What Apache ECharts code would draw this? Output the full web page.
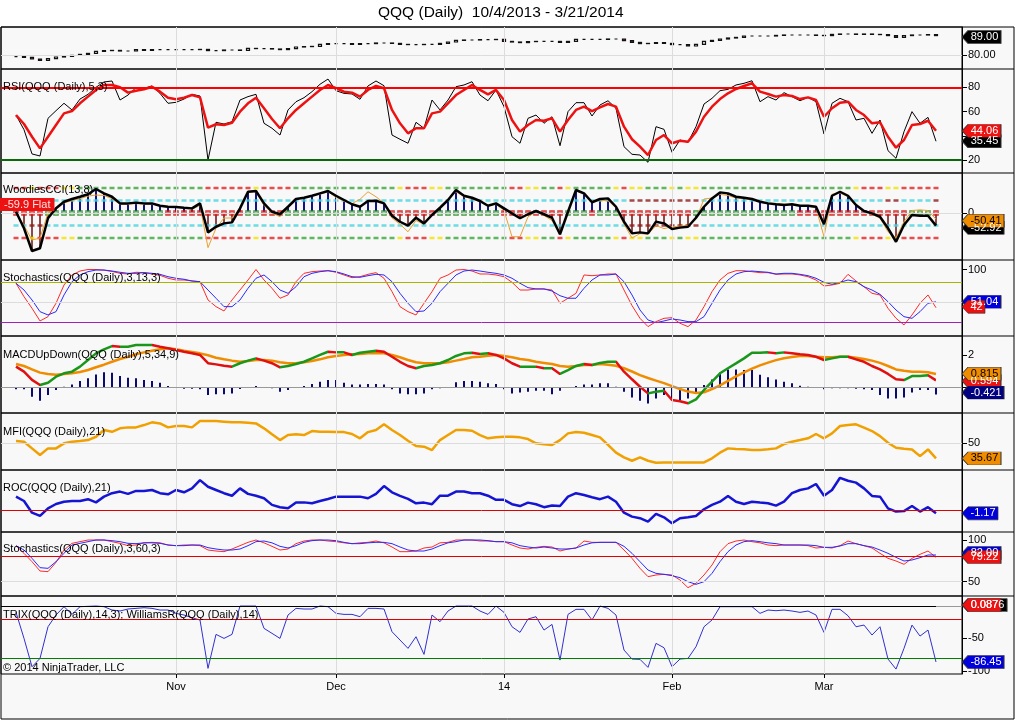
<!DOCTYPE html>
<html>
<head>
<meta charset="utf-8">
<title>QQQ (Daily) 10/4/2013 - 3/21/2014</title>
<script src="https://cdn.jsdelivr.net/npm/echarts@6/dist/echarts.min.js"></script>
<style>
  html, body { margin: 0; padding: 0; background: #fff; }
  #chart { width: 1016px; height: 720px; }
</style>
</head>
<body>
<div id="chart"></div>
<script>
// trading days 10/4/2013 .. 3/21/2014, index 0..115
const monthIdx = [20, 40, 61, 82, 101]
const monthLabels = ['Nov', 'Dec', '14', 'Feb', 'Mar']

const closes = [
  79.2, 78.8, 78.0, 77.3, 78.2, 79.0, 79.3, 79.8, 80.3, 80.8,
  81.8, 82.2, 82.3, 82.0, 82.0, 82.7, 82.3, 82.7, 82.7, 82.7,
  82.7, 82.7, 82.7, 82.8, 82.2, 82.2, 82.5, 82.5, 82.3, 83.3,
  83.2, 83.2, 83.0, 82.7, 83.2, 84.0, 84.2, 84.3, 85.3, 85.7,
  85.7, 85.7, 85.3, 85.7, 85.7, 86.0, 86.0, 85.8, 85.3, 85.2,
  85.2, 85.3, 85.3, 85.8, 86.5, 87.3, 87.5, 87.5, 87.7, 87.7,
  87.8, 86.8, 86.5, 86.2, 86.7, 86.8, 86.8, 86.8, 86.3, 86.8,
  87.8, 87.8, 87.8, 87.8, 88.0, 88.0, 87.2, 86.3, 85.7, 85.8,
  86.2, 85.8, 85.2, 85.2, 84.5, 85.3, 86.8, 87.3, 88.0, 88.5,
  88.8, 89.5, 89.5, 89.5, 89.5, 89.8, 90.0, 90.0, 90.0, 90.0,
  89.8, 89.7, 90.3, 90.5, 90.5, 90.3, 90.5, 90.3, 90.2, 89.7,
  88.8, 89.7, 90.0, 90.0, 90.2, 89.7
]

const rsi = [
  57.1, 45.0, 25.0, 23.3, 54.4, 60.7, 66.8, 61.3, 70.3, 74.2,
  80.0, 84.4, 85.2, 69.5, 73.6, 79.7, 79.2, 81.1, 75.0, 66.8,
  67.6, 70.3, 74.2, 72.8, 20.0, 51.1, 49.7, 51.6, 69.5, 72.3,
  74.2, 50.3, 46.2, 40.6, 61.3, 68.1, 71.4, 76.4, 82.5, 86.8,
  77.2, 75.0, 74.5, 70.1, 81.1, 85.2, 81.3, 40.6, 37.1, 33.8,
  51.1, 46.2, 69.5, 61.3, 69.5, 80.5, 81.9, 84.6, 73.6, 68.9,
  77.8, 64.0, 39.2, 33.8, 54.4, 57.1, 50.3, 55.7, 31.8, 59.9,
  67.3, 67.3, 56.3, 65.4, 68.9, 62.7, 31.0, 24.7, 24.1, 18.1,
  47.5, 45.3, 26.4, 36.5, 34.6, 47.5, 66.2, 70.9, 77.2, 78.3,
  81.9, 83.3, 85.4, 68.1, 72.3, 69.5, 75.6, 72.3, 68.9, 71.7,
  68.1, 41.5, 66.8, 70.9, 68.1, 53.0, 54.4, 42.0, 53.0, 27.7,
  21.4, 43.4, 59.9, 50.3, 55.2, 35.45
]
const rsiAvg = [
  57.1, 49.7, 39.2, 29.6, 39.2, 48.9, 58.5, 60.4, 66.8, 72.3,
  77.8, 81.9, 81.9, 80.0, 75.6, 77.2, 78.3, 80.5, 76.4, 71.4,
  70.1, 71.4, 73.6, 71.7, 46.7, 49.5, 48.9, 50.8, 59.9, 66.8,
  71.4, 62.7, 53.8, 46.2, 54.4, 61.3, 66.8, 72.3, 77.8, 81.9,
  79.2, 76.4, 75.6, 72.3, 77.8, 81.1, 79.2, 61.3, 50.3, 42.0,
  46.2, 46.2, 58.5, 59.9, 66.8, 73.6, 77.8, 81.9, 77.8, 74.2,
  77.8, 69.5, 53.0, 43.4, 48.9, 53.0, 52.4, 54.4, 43.4, 53.0,
  61.3, 64.0, 60.4, 63.5, 66.2, 64.0, 47.5, 37.1, 31.0, 24.1,
  36.5, 40.6, 33.8, 35.9, 35.1, 43.4, 55.7, 64.0, 70.3, 75.0,
  78.6, 81.1, 83.3, 76.4, 74.5, 72.3, 73.6, 72.8, 70.3, 71.7,
  69.5, 55.7, 62.7, 67.3, 68.1, 61.3, 57.1, 50.3, 51.1, 39.2,
  30.2, 36.5, 48.9, 49.7, 52.4, 44.06
]

const cci = [
  10, -122, -304, -282, -42, 38, 90, 112, 130, 150,
  192, 157, 130, 77, 77, 83, 77, 77, 58, 50,
  48, 42, 37, 77, -155, -110, -83, -75, 37, 170,
  176, 77, 10, -10, 50, 112, 122, 138, 157, 176,
  138, 104, 70, 50, 96, 98, 77, -22, -70, -101,
  -38, -83, -16, 42, 104, 184, 138, 122, 96, 58,
  77, 37, -3, -42, -10, 16, -10, -38, -170, 10,
  184, 157, 86, 112, 117, 50, -70, -163, -155, -163,
  -70, -83, -128, -117, -110, -38, 50, 117, 165, 157,
  130, 122, 112, 90, 77, 70, 64, 70, 58, 58,
  50, -90, 138, 170, 138, 64, 16, -3, -30, -122,
  -230, -96, -16, -22, -22, -101
]
const cciTurbo = [
  10, -100, -216, -200, 0, 30, 80, 100, 115, 135,
  144, 140, 115, 70, 70, 75, 70, 70, 55, 45,
  45, 40, 30, 60, -277, -122, -40, -40, 40, 165,
  170, 60, 0, -30, 40, 110, 120, 135, 150, 170,
  125, 95, 75, 110, 170, 130, 80, -40, -90, -150,
  -60, -90, -20, 50, 110, 170, 130, 115, 90, 55,
  70, 20, -190, -190, -30, 10, -20, -60, -175, 20,
  176, 150, 95, 100, 100, 40, -90, -200, -165, -170,
  -100, -125, -110, -105, -100, -50, 112, 120, 150, 140,
  120, 115, 105, 95, 80, 75, 72, 65, 55, 55,
  40, -190, 150, 160, 130, 60, 10, -10, -40, -150,
  -200, -70, 20, 25, 20, -50
]
// per-bar colour codes of the Woodies level lines
const cciZeroCodes =
  'rrrrggggggggggggggg' + 'rrrrrrrrrrggrrr' + 'gggggggggggggrrrrrr' + 'gggggggg' +
  'rrrrrrrrgggrggg' + 'rrrrrrrrr' + 'ggggggggggggg' + 'rrrrrrrrrrrrrr' + 'gggr'
const cciOuterCodes =
  'rryrrryy' + 'gggggggggggggggg' + 'rrrrrryrrrr' + 'ggggggggggggg' + 'yrrryy' + 'ggggggg' +
  'grryyggryggggg' + 'yryyggg' + 'ygyy' + 'ggggggggggggggggggg' + 'yrrryyrrrrr'
const cciUpperCodes =
  'c'.repeat(77) + 'd'.repeat(9) + 'c'.repeat(23) + 'dd' + 'cccc' + 'd'
const cciLowerCodes =
  'ccdd' + 'c'.repeat(73) + 'd'.repeat(9) + 'c'.repeat(30)

const stochK = [
  79.1, 58.8, 41.2, 22.0, 28.5, 48.8, 76.5, 91.7, 97.7, 100,
  100, 99, 97, 94.2, 93.2, 95.8, 95.2, 93.2, 91.2, 86.7,
  84.1, 84.1, 82.6, 81.5, 53.8, 43.7, 37.1, 53.8, 68.9, 84.1,
  100, 84.1, 71.5, 56.4, 61.4, 81.5, 94.2, 96.7, 97.7, 98.2,
  95.8, 91.7, 87.6, 89.1, 92.7, 95.2, 86.7, 66.4, 43.7, 36.1,
  31.1, 48.8, 66.4, 86.7, 91.7, 99.2, 100, 97.7, 93.2, 93.2,
  91.7, 89.1, 80.6, 68.9, 68.9, 70.5, 70.5, 68.9, 48.8, 56.4,
  63.9, 91.7, 90.6, 91.7, 93.2, 93.2, 68.9, 45.3, 26.0, 13.4,
  21.0, 26.0, 27.0, 18.5, 13.4, 23.5, 43.7, 66.4, 84.1, 94.2,
  98.2, 98.2, 96.7, 95.2, 95.2, 92.7, 93.2, 93.2, 91.7, 89.1,
  84.1, 75.0, 76.5, 79.1, 92.7, 82.6, 73.9, 63.9, 61.4, 41.2,
  26.0, 16.0, 31.1, 48.8, 61.4, 42
]
const stochD = [
  79.1, 68.9, 53.8, 36.1, 31.1, 36.1, 61.4, 81.5, 91.7, 96.7,
  99.2, 99.2, 97.7, 95.8, 94.2, 94.2, 95.2, 94.2, 92.7, 89.1,
  86.7, 85.2, 82.6, 81.5, 68.9, 56.4, 43.7, 43.7, 53.8, 71.5,
  86.7, 91.7, 81.5, 68.9, 63.9, 73.9, 89.1, 94.2, 96.7, 98.2,
  96.7, 93.2, 89.1, 88.2, 90.6, 92.7, 91.7, 81.5, 63.9, 48.8,
  36.1, 37.1, 48.8, 66.4, 79.1, 91.7, 97.7, 99.2, 97.7, 95.8,
  94.2, 91.7, 86.7, 79.1, 72.5, 70.5, 70.5, 67.4, 60.3, 56.4,
  56.4, 71.5, 84.1, 91.7, 91.7, 93.2, 81.5, 61.4, 38.6, 23.5,
  19.4, 22.0, 25.0, 23.5, 21.0, 21.0, 28.5, 48.8, 68.9, 84.1,
  93.2, 96.7, 97.7, 96.7, 95.8, 93.2, 94.2, 94.2, 92.7, 90.6,
  86.7, 80.6, 77.6, 80.6, 84.1, 81.5, 73.9, 68.9, 62.4, 51.2,
  38.6, 28.5, 26.0, 36.1, 48.8, 51.04
]

const macd = [
  1.30, 0.99, 0.48, 0.17, 0.31, 0.68, 0.89, 0.99, 1.30, 1.71,
  2.12, 2.37, 2.57, 2.53, 2.53, 2.64, 2.64, 2.64, 2.53, 2.43,
  2.33, 2.22, 2.12, 2.02, 1.51, 1.44, 1.36, 1.30, 1.51, 1.67,
  1.81, 1.67, 1.51, 1.26, 1.34, 1.46, 1.60, 1.81, 2.02, 2.22,
  2.18, 2.18, 2.02, 2.16, 2.22, 2.28, 2.22, 1.91, 1.60, 1.34,
  1.20, 1.34, 1.40, 1.51, 1.71, 1.96, 2.12, 2.16, 2.08, 2.12,
  2.02, 1.81, 1.51, 1.30, 1.30, 1.30, 1.20, 1.20, 0.85, 1.09,
  1.34, 1.46, 1.40, 1.53, 1.60, 1.60, 0.99, 0.52, 0.06, -0.35,
  -0.25, -0.19, -0.76, -0.83, -0.96, -0.72, -0.14, 0.37, 0.89, 1.20,
  1.50, 1.81, 2.16, 2.16, 2.18, 2.12, 2.18, 2.12, 2.06, 2.02,
  1.91, 1.71, 1.81, 1.91, 1.91, 1.75, 1.60, 1.34, 1.13, 0.85,
  0.52, 0.47, 0.72, 0.72, 0.77, 0.45
]
const macdAvg = [
  1.46, 1.34, 1.13, 0.93, 0.85, 0.80, 0.85, 0.89, 0.97, 1.09,
  1.26, 1.42, 1.60, 1.77, 1.91, 2.06, 2.18, 2.28, 2.37, 2.43,
  2.37, 2.28, 2.20, 2.12, 2.00, 1.85, 1.75, 1.67, 1.60, 1.65,
  1.71, 1.71, 1.67, 1.57, 1.51, 1.51, 1.57, 1.65, 1.75, 1.88,
  1.96, 2.02, 2.06, 2.08, 2.12, 2.12, 2.12, 2.02, 1.88, 1.71,
  1.57, 1.51, 1.51, 1.51, 1.57, 1.67, 1.77, 1.88, 1.91, 1.97,
  2.02, 1.96, 1.88, 1.77, 1.71, 1.60, 1.53, 1.46, 1.34, 1.30,
  1.34, 1.40, 1.40, 1.46, 1.42, 1.35, 1.20, 1.00, 0.78, 0.60,
  0.44, 0.28, 0.10, -0.08, -0.24, -0.32, -0.28, -0.08, 0.15, 0.42,
  0.70, 0.95, 1.18, 1.38, 1.55, 1.70, 1.82, 1.90, 1.95, 1.96,
  1.91, 1.88, 1.88, 1.91, 1.91, 1.85, 1.77, 1.67, 1.53, 1.34,
  1.13, 1.05, 0.99, 0.99, 0.95, 0.85
]
const macdDiff = [
  -0.10, -0.10, -0.56, -0.80, -0.45, -0.14, 0.06, 0.20, 0.41, 0.58,
  0.82, 0.95, 0.93, 0.72, 0.62, 0.58, 0.47, 0.41, 0.31, 0.10,
  0, -0.06, -0.06, -0.10, -0.45, -0.41, -0.41, -0.35, -0.08, 0,
  0.10, 0, -0.04, -0.25, -0.14, 0.04, 0.10, 0.23, 0.37, 0.47,
  0.47, 0.31, 0.20, 0.20, 0.23, 0.23, 0.20, -0.10, -0.35, -0.41,
  -0.41, -0.35, -0.10, -0.04, 0, 0.33, 0.41, 0.41, 0.37, 0.27,
  0.23, -0.10, -0.35, -0.29, -0.25, -0.19, -0.19, -0.41, -0.19, 0,
  0.10, 0.20, 0.20, 0.27, 0.27, 0.06, -0.25, -0.60, -0.80, -0.97,
  -0.66, -0.45, -0.72, -0.76, -0.66, -0.31, 0.16, 0.51, 0.93, 1.13,
  1.13, 1.09, 1.09, 0.80, 0.65, 0.50, 0.37, 0.27, 0.12, 0.06,
  0, -0.10, -0.04, -0.04, -0.04, -0.06, -0.10, -0.14, -0.45, -0.66,
  -0.66, -0.60, -0.29, -0.14, -0.14, -0.42
]

const mfi = [
  52.2, 51.5, 45.2, 38.9, 45.2, 45.2, 50.0, 51.5, 52.2, 53.1,
  56.3, 62.7, 61.0, 64.3, 65.2, 65.2, 67.4, 70.0, 69.0, 65.2,
  66.5, 66.5, 65.2, 71.2, 71.2, 71.2, 70.6, 70.0, 70.0, 69.7,
  69.0, 64.3, 58.6, 53.1, 57.9, 58.6, 57.9, 61.7, 61.0, 61.0,
  60.7, 60.7, 58.9, 54.8, 60.7, 62.7, 68.1, 62.7, 57.9, 52.5,
  47.4, 46.8, 43.6, 53.1, 57.9, 62.7, 62.7, 62.0, 57.9, 54.8,
  55.7, 56.3, 56.3, 55.7, 54.1, 50.0, 49.1, 48.5, 53.1, 59.5,
  60.7, 60.1, 57.9, 55.7, 48.5, 41.1, 36.7, 33.4, 36.7, 33.4,
  31.5, 31.8, 31.8, 31.8, 31.8, 31.8, 31.8, 35.7, 41.1, 45.2,
  44.6, 44.3, 43.6, 43.6, 44.3, 45.2, 49.3, 51.5, 53.1, 54.8,
  58.9, 54.8, 59.5, 66.5, 67.4, 68.1, 64.9, 61.7, 56.9, 50.6,
  45.8, 44.9, 44.2, 37.8, 44.2, 35.67
]

const roc = [
  6.1, 4.2, -0.9, -2.3, 1.0, 2.9, 3.9, 4.2, 4.2, 5.0,
  3.6, 6.1, 7.6, 8.3, 7.3, 8.6, 8.6, 9.0, 7.6, 7.1,
  9.0, 8.0, 9.7, 13.3, 10.4, 9.0, 7.6, 6.5, 9.7, 7.3,
  6.5, 5.4, 2.5, 1.5, 1.0, 3.6, 3.6, 3.2, 4.2, 5.1,
  6.1, 6.1, 6.1, 6.1, 5.4, 7.3, 10.7, 8.0, 6.4, 5.1,
  3.2, 3.5, 2.8, 6.5, 6.5, 8.3, 8.3, 7.6, 7.6, 6.5,
  4.7, 4.7, 2.8, 2.0, 3.5, 2.8, 1.5, 2.2, 2.0, 6.1,
  7.6, 6.8, 5.8, 5.0, 6.1, 3.9, -0.9, -2.6, -3.3, -4.8,
  -1.4, -2.9, -5.5, -3.3, -2.9, -2.3, 0.6, 2.5, 3.9, 6.4,
  3.9, 2.9, 3.9, 3.5, 3.2, 2.2, 3.9, 7.6, 9.0, 9.7,
  11.6, 6.5, 9.0, 14.3, 13.0, 12.2, 9.7, 6.4, 6.1, 1.0,
  -0.4, -0.2, 2.0, -0.4, 1.5, -1.17
]

const stoch60K = [
  93.2, 84.0, 74.0, 62.8, 62.0, 73.2, 88.0, 96.0, 98.0, 100,
  100, 100, 98.0, 96.0, 93.2, 94.0, 96.6, 97.2, 96.6, 94.0,
  93.2, 94.0, 94.0, 93.2, 88.0, 86.8, 86.0, 89.2, 93.2, 97.2,
  100, 96.6, 92.4, 88.0, 89.2, 95.6, 98.8, 100, 100, 98.8,
  98.0, 96.6, 95.6, 96.6, 97.2, 98.8, 96.6, 91.6, 86.0, 86.0,
  86.8, 90.4, 91.6, 96.6, 97.2, 100, 100, 100, 98.8, 98.8,
  98.0, 98.0, 94.0, 90.4, 89.2, 91.2, 92.4, 91.6, 86.8, 89.2,
  90.4, 98.8, 97.2, 97.2, 97.2, 97.2, 88.0, 78.0, 66.0, 56.0,
  58.0, 58.8, 58.0, 52.0, 42.8, 48.0, 58.0, 70.0, 86.0, 95.6,
  98.8, 100, 98.0, 96.6, 94.0, 93.2, 94.0, 94.0, 94.0, 93.2,
  90.4, 91.2, 90.4, 93.2, 98.8, 95.6, 93.2, 90.4, 84.0, 78.0,
  74.8, 70.8, 78.0, 82.8, 86.8, 79.22
]
const stoch60D = [
  93.2, 88.0, 78.0, 66.8, 66.0, 74.0, 84.0, 94.0, 96.0, 98.0,
  100, 100, 99.2, 98.0, 96.0, 95.6, 96.6, 96.6, 96.0, 94.0,
  93.2, 93.2, 94.0, 94.0, 90.8, 89.2, 88.0, 88.0, 89.2, 93.2,
  98.0, 98.8, 96.6, 92.4, 90.4, 93.2, 97.2, 99.2, 100, 100,
  99.2, 97.2, 95.6, 95.6, 96.6, 97.2, 97.2, 95.6, 91.6, 88.0,
  86.8, 86.8, 89.2, 93.2, 96.6, 98.0, 100, 100, 100, 99.2,
  98.0, 98.0, 96.6, 93.2, 91.6, 90.4, 91.6, 90.4, 89.2, 89.2,
  90.4, 94.0, 96.6, 97.2, 97.2, 97.2, 92.4, 84.0, 74.0, 64.0,
  60.0, 58.8, 57.2, 54.8, 50.0, 46.8, 50.0, 60.0, 74.0, 86.0,
  94.0, 98.0, 99.2, 98.0, 96.6, 95.6, 94.0, 94.0, 94.0, 94.0,
  93.2, 91.2, 91.2, 92.8, 95.6, 95.6, 93.2, 91.6, 88.0, 84.0,
  79.2, 74.8, 76.0, 78.8, 82.0, 82.0
]

const willR = [
  -9.8, -50, -93.8, -80.9, -32, -13.9, -1, -12.9, -1, -0.5,
  0, -1, -6.2, -7.7, -4.6, -3.6, -2.6, -3.6, -6.2, -6.2,
  -11.3, -13.9, -18, -21.6, -96.3, -43.8, -50, -43.8, 0, 0,
  0, -34.5, -42.2, -50, -13.9, -3.6, -4.6, -4.6, 0, -1,
  -11.3, -12.9, -12.9, -16.5, -3.6, -3.6, -4.6, -39.7, -52.5, -65.4,
  -47.4, -74.7, -13.9, -24.2, -7.7, 0, 0, 0, -7.7, -12.9,
  0, -9.8, -32, -40.7, -20.1, -16.5, -37.1, -28.4, -83.5, -12.9,
  -5.1, -5.1, -21.6, 0, -3.6, -13.9, -68, -81.9, -82.4, -94.8,
  -57.7, -64.4, -93.8, -81.9, -80.9, -62.8, -32, -21.6, -1, -1,
  -1, -1, -1, -11.3, -6.2, -7.2, -6.2, -7.7, -9.8, -7.7,
  -13.9, -40.7, -5.1, -5.1, -15, -32, -29.4, -44.8, -32, -81.9,
  -97.4, -65.4, -29.4, -46.4, -37.1, -86.45
]
const trixLast = 0.0876

// right-hand tick labels per panel
const priceTicks = [80]
const rsiTicks = [80, 60, 40, 20]
const cciTicks = [0]
const stochTicks = [100]
const macdTicks = [2, 0]
const mfiTicks = [50]
const stoch60Ticks = [100, 50]
const willTicks = [-50, -100]

const FONT = '"Liberation Sans", Arial, sans-serif'
const X_MIN = -1.875
const X_MAX = 118.25
const LAST = closes.length - 1
const GRID_LINE = '#dcdcdc'

const panels = [
  { top: 27, height: 42, min: 73, max: 94, ticks: priceTicks, fmt: v => v.toFixed(2) },
  { top: 69, height: 104, min: 9.27, max: 95.1, ticks: rsiTicks },
  { top: 173, height: 87, min: -376, max: 320, ticks: cciTicks },
  { top: 260, height: 76, min: -0.8, max: 114.4, ticks: stochTicks },
  { top: 336, height: 77, min: -1.56, max: 3.19, ticks: macdTicks },
  { top: 413, height: 57, min: 24.6, max: 78.9, ticks: mfiTicks },
  { top: 470, height: 62, min: -9.3, max: 17.7, ticks: [] },
  { top: 532, height: 64, min: 32.8, max: 109.6, ticks: stoch60Ticks },
  { top: 596, height: 78, min: -105, max: 15.5, ticks: willTicks }
]

const grid = []
const xAxis = []
const yAxis = []
const series = []
const visualMap = []

panels.forEach((p, k) => {
  const bottom = k === panels.length - 1
  grid.push({ left: 1, right: 54, top: p.top, height: p.height, show: true, borderColor: '#000', borderWidth: 1 })
  xAxis.push({
    type: 'value', gridIndex: k, min: X_MIN, max: X_MAX, show: bottom, position: 'bottom',
    splitLine: { show: false }, axisLine: { show: false, onZero: false },
    axisTick: { show: bottom, customValues: monthIdx, length: 4, lineStyle: { color: '#000' } },
    axisLabel: {
      show: bottom, customValues: monthIdx, margin: 7, color: '#000', fontSize: 11, fontFamily: FONT,
      formatter: v => monthLabels[monthIdx.indexOf(v)] || ''
    }
  })
  yAxis.push({
    type: 'value', gridIndex: k, position: 'right', min: p.min, max: p.max,
    splitLine: { show: false },
    axisLine: { show: true, onZero: false, lineStyle: { color: '#000' } },
    axisTick: { show: p.ticks.length > 0, customValues: p.ticks, length: 5, lineStyle: { color: '#000' } },
    axisLabel: {
      show: p.ticks.length > 0, customValues: p.ticks, margin: 6, color: '#000', fontSize: 11, fontFamily: FONT,
      formatter: p.fmt || (v => String(v))
    }
  })
})

function xy(arr) {
  return arr.map((v, i) => [i, v])
}

function addLine(k, arr, color, width, z) {
  const s = {
    type: 'line', xAxisIndex: k, yAxisIndex: k, data: xy(arr), symbol: 'none', showSymbol: false,
    lineStyle: { width: width }, z: z || 3, silent: true, animation: false
  }
  if (color) {
    s.lineStyle.color = color
    s.itemStyle = { color: color }
  }
  series.push(s)
  return series.length - 1
}

// background guides: month verticals plus horizontal levels
function guides(k, levels, extra) {
  const data = monthIdx.map(v => ({ xAxis: v, lineStyle: { color: GRID_LINE, width: 1, type: 'solid' } }))
  levels.forEach(l => data.push({ yAxis: l[0], lineStyle: { color: l[1], width: l[2] || 1, type: 'solid' } }))
  series.push({
    type: 'line', xAxisIndex: k, yAxisIndex: k, data: [], z: 1, silent: true, animation: false,
    markLine: { silent: true, symbol: ['none', 'none'], label: { show: false }, animation: false, data: data.concat(extra || []) }
  })
}

const measure = document.createElement('canvas').getContext('2d')
measure.font = '11px "Liberation Sans"'

function tag(at, text, bg, fg) {
  const w = Math.round(measure.measureText(text).width) + 11
  return {
    coord: [X_MAX, at],
    symbol: 'path://M0,6.5L6,0L' + w + ',0L' + w + ',13L6,13Z',
    symbolSize: [w, 13],
    symbolOffset: [w / 2, 0],
    itemStyle: { color: bg, borderColor: '#333', borderWidth: 0.6 },
    label: { show: true, position: 'inside', formatter: text, color: fg, fontSize: 11, fontFamily: FONT, offset: [3, 0] }
  }
}

function tags(k, list) {
  series.push({
    type: 'line', xAxisIndex: k, yAxisIndex: k, data: [], z: 20, silent: true, animation: false,
    markPoint: { silent: true, animation: false, data: list }
  })
}

// 0: price
guides(0, [[80, GRID_LINE]])
series.push({
  type: 'candlestick', xAxisIndex: 0, yAxisIndex: 0, barWidth: 4, animation: false, silent: true,
  encode: { x: 0, y: [1, 2, 3, 4] },
  data: closes.map((c, i) => {
    const o = i ? closes[i - 1] : c
    return [i, o, c, Math.min(o, c), Math.max(o, c)]
  }),
  itemStyle: { color: '#e6f2e6', color0: '#9a2222', borderColor: '#111', borderColor0: '#111', borderWidth: 1.2 }
})
tags(0, [tag(89, '89.00', '#000', '#fff')])

// 1: RSI
guides(1, [[80, '#ff0000', 2], [20, '#0a6a0a', 2]])
addLine(1, rsi, '#000', 1, 3)
addLine(1, rsiAvg, '#ee1111', 2.5, 4)
tags(1, [tag(35.45, '35.45', '#000', '#fff'), tag(44.06, '44.06', '#ee1111', '#fff')])

// 2: Woodies CCI
const CCI_COLORS = { g: '#3aa63a', r: '#e42020', y: '#f2e200', c: '#48d4e0', d: '#8e1b1b' }
guides(2, [[0, GRID_LINE]])
function levelDashes(level, codes) {
  series.push({
    type: 'scatter', xAxisIndex: 2, yAxisIndex: 2, symbol: 'rect', symbolSize: [5, 2.5], z: 2,
    silent: true, animation: false,
    data: codes.split('').map((c, i) => ({ value: [i, level], itemStyle: { color: CCI_COLORS[c] } }))
  })
}
levelDashes(200, cciOuterCodes)
levelDashes(-200, cciOuterCodes)
levelDashes(100, cciUpperCodes)
levelDashes(-100, cciLowerCodes)
series.push({
  type: 'bar', xAxisIndex: 2, yAxisIndex: 2, data: xy(cci), barWidth: 2, z: 2, silent: true, animation: false,
  itemStyle: { color: p => (p.value[1] >= 0 ? '#141484' : '#8c4a4a') }
})
series.push({
  type: 'scatter', xAxisIndex: 2, yAxisIndex: 2, symbol: 'rect', symbolSize: 5, z: 3, silent: true, animation: false,
  data: cciZeroCodes.split('').map((c, i) => ({
    value: [i, 0], itemStyle: { color: CCI_COLORS[c], borderColor: c === 'g' ? '#1d6e1d' : '#b01010', borderWidth: 0.5 }
  }))
})
series.push({
  type: 'scatter', xAxisIndex: 2, yAxisIndex: 2, z: 3, silent: true, animation: false,
  itemStyle: { color: '#fff' },
  data: cciZeroCodes.split('').map((c, i) => ({
    value: [i, 0],
    symbol: c === 'g' ? 'path://M1,0H2V1H3V2H2V3H1V2H0V1H1Z' : 'rect',
    symbolSize: c === 'g' ? 3 : [3, 1]
  }))
})
addLine(2, cciTurbo, '#e8a030', 1, 4)
addLine(2, cci, '#000', 2.5, 5)
tags(2, [tag(-118, '-52.92', '#000', '#fff'), tag(-62, '-50.41', '#f08c00', '#000')])

// 3: Stochastics 3,13,3
guides(3, [[80, '#a8b400'], [20, '#a020c0'], [50, GRID_LINE]])
addLine(3, stochK, '#ff2a2a', 1, 3)
addLine(3, stochD, '#2a2aff', 1, 4)
tags(3, [tag(51.04, '51.04', '#0000dd', '#fff'), tag(43.5, '42', '#ee1111', '#fff')])

// 4: MACD up/down (line colour comes from the visualMap below)
guides(4, [[0, '#999']])
series.push({
  type: 'bar', xAxisIndex: 4, yAxisIndex: 4, data: xy(macdDiff), barWidth: 2, z: 2, silent: true, animation: false,
  itemStyle: { color: '#0a0a70' }
})
addLine(4, macdAvg, '#f08c00', 2.5, 3)
const macdIndex = addLine(4, macd, null, 2.5, 4)
const macdPieces = [{ lte: 0, color: '#e01010' }]
for (let i = 1; i < macd.length; i++) {
  macdPieces.push({ gt: i - 1, lte: i, color: macd[i] >= macd[i - 1] ? '#1a961a' : '#e01010' })
}
visualMap.push({ type: 'piecewise', show: false, seriesIndex: macdIndex, dimension: 0, pieces: macdPieces })
tags(4, [tag(0.41, '0.594', '#ee1111', '#fff'), tag(0.86, '0.815', '#f08c00', '#000'), tag(-0.30, '-0.421', '#000080', '#fff')])

// 5: MFI
guides(5, [[50, GRID_LINE]])
addLine(5, mfi, '#f0a000', 2.5, 3)
tags(5, [tag(35.67, '35.67', '#f08c00', '#000')])

// 6: ROC
guides(6, [[0, '#e00000']])
addLine(6, roc, '#1414d2', 2.5, 3)
tags(6, [tag(-1.17, '-1.17', '#0000dd', '#fff')])

// 7: Stochastics 3,60,3
guides(7, [[80, '#e00000'], [50, GRID_LINE]])
addLine(7, stoch60K, '#ff2a2a', 1, 3)
addLine(7, stoch60D, '#2a2aff', 1, 4)
tags(7, [tag(84.4, '82.00', '#0000dd', '#fff'), tag(79.6, '79.22', '#ee1111', '#fff')])

// 8: TRIX + Williams %R
guides(8, [[-20, '#e00000'], [-80, '#008000']], [
  [{ coord: [X_MIN, trixLast], lineStyle: { color: '#000', width: 1, type: 'solid' } }, { coord: [LAST, trixLast] }],
  [{ coord: [LAST, trixLast], lineStyle: { color: '#999', width: 1, type: 'solid' } }, { coord: [X_MAX, trixLast] }]
])
addLine(8, willR, '#3030d0', 1, 3)
tags(8, [tag(1.5, '0.0876', '#000', '#fff'), tag(1.5, '0.087', '#ee1111', '#fff'), tag(-86.45, '-86.45', '#0000dd', '#fff')])

const labelStyle = { fontSize: 11, fontWeight: 'normal', color: '#000', fontFamily: FONT }
const paneLabels = [
  ['RSI(QQQ (Daily),5,3)', 81],
  ['WoodiesCCI(13,8)', 184],
  ['Stochastics(QQQ (Daily),3,13,3)', 272],
  ['MACDUpDown(QQQ (Daily),5,34,9)', 349],
  ['MFI(QQQ (Daily),21)', 426],
  ['ROC(QQQ (Daily),21)', 482],
  ['Stochastics(QQQ (Daily),3,60,3)', 543],
  ['TRIX(QQQ (Daily),14,3); WilliamsR(QQQ (Daily),14)', 609],
  ['\u00a9 2014 NinjaTrader, LLC', 662]
]
const title = [
  { text: 'QQQ (Daily)  10/4/2013 - 3/21/2014', left: 378, top: 5, padding: 0,
    textStyle: Object.assign({}, labelStyle, { fontSize: 15.5 }) }
].concat(paneLabels.map(l => ({ text: l[0], left: 3, top: l[1], padding: 0, textStyle: labelStyle })))
title.push({ text: '-59.9 Flat', left: 0, top: 198, padding: [1, 4, 1, 4], backgroundColor: '#ee1111',
  textStyle: Object.assign({}, labelStyle, { color: '#ffe4e4' }) })

const separators = [69, 173, 260, 336, 413, 470, 532, 596]
const graphic = [
  { type: 'rect', z: -10, silent: true, shape: { x: 1, y: 27, width: 1013, height: 692 },
    style: { fill: '#f8f8f8', stroke: '#000', lineWidth: 1 } }
].concat(separators.map(y => ({
  type: 'line', silent: true, shape: { x1: 962, y1: y, x2: 1014, y2: y }, style: { stroke: '#000', lineWidth: 1 }
})))

const chart = echarts.init(document.getElementById('chart'))
chart.setOption({
  animation: false,
  backgroundColor: '#fff',
  textStyle: { fontFamily: FONT },
  title: title,
  grid: grid,
  xAxis: xAxis,
  yAxis: yAxis,
  visualMap: visualMap,
  graphic: graphic,
  series: series
})
</script>
</body>
</html>
